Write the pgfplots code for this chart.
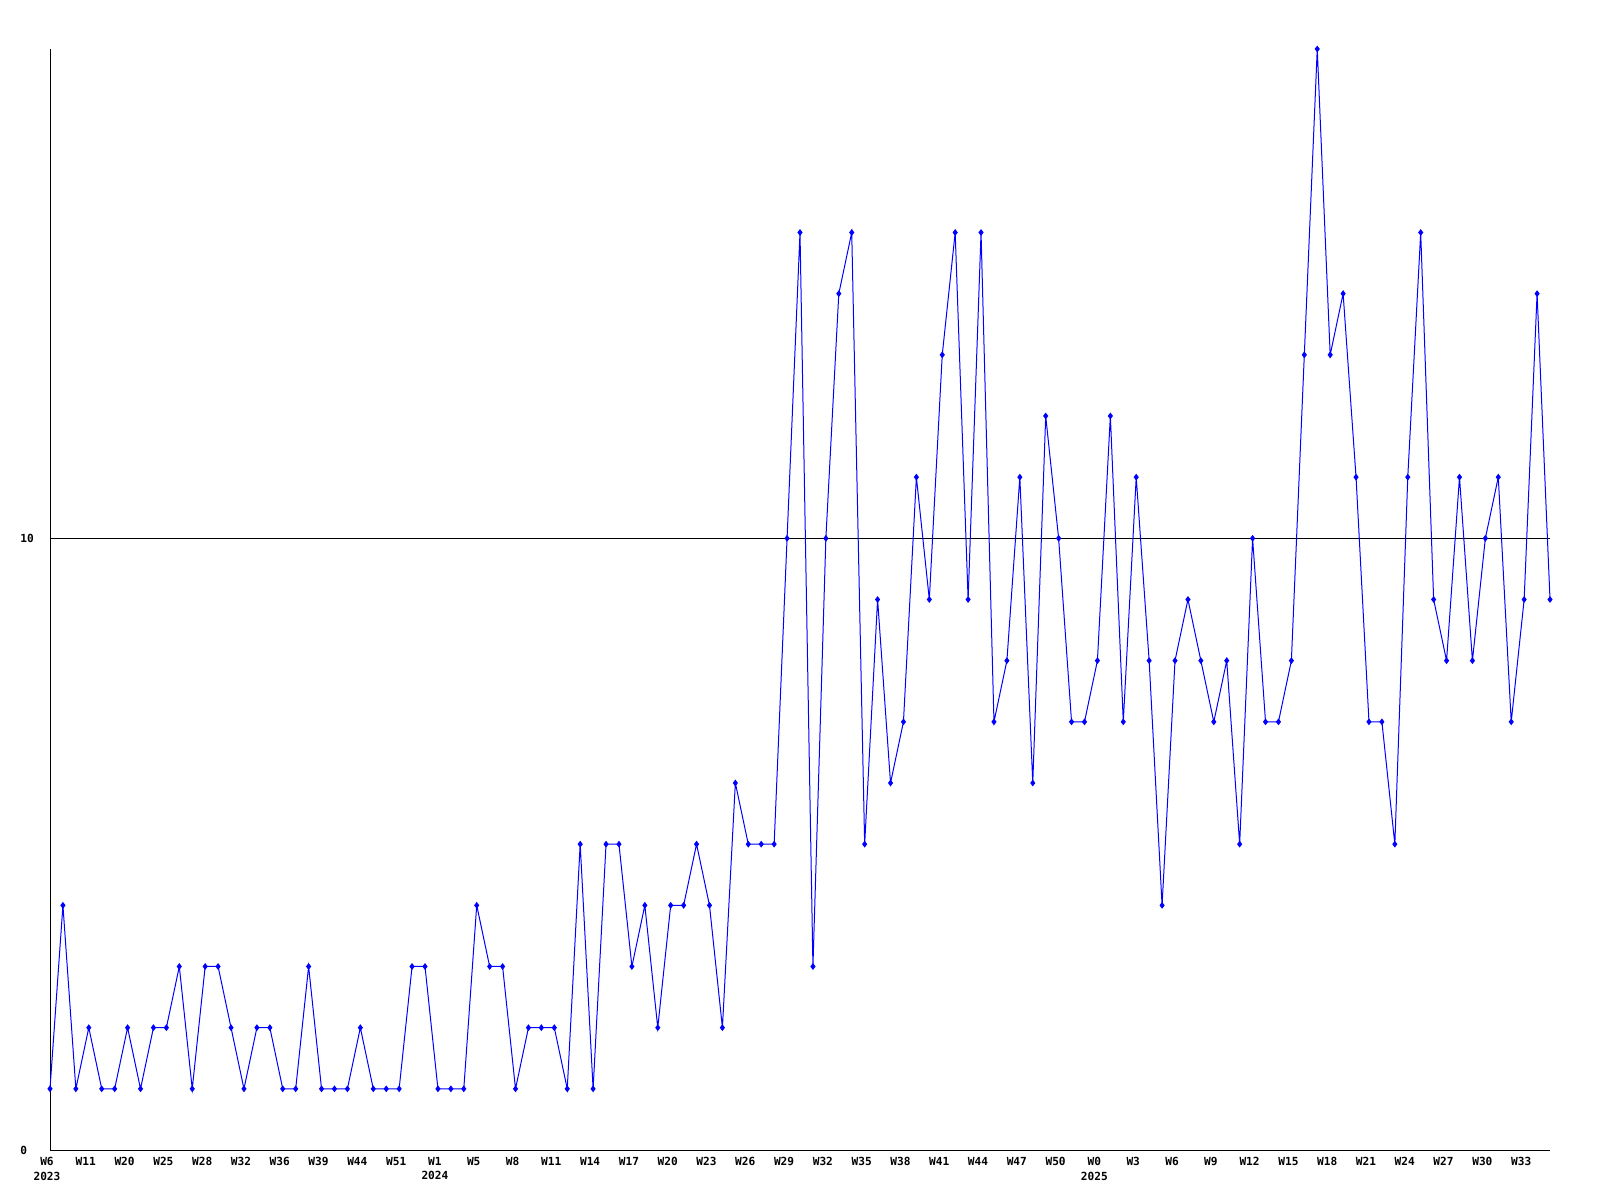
\documentclass[border=0pt]{standalone}
\usepackage{fontspec}
\setmainfont{DejaVu Sans Mono}
\usepackage{pgfplots}
\pgfplotsset{compat=1.18}
\definecolor{lineblue}{RGB}{0,0,255}

\begin{document}
\begin{tikzpicture}
\path[use as bounding box] (0,0) rectangle (800bp,600bp);
\begin{axis}[
    at={(25bp,25bp)}, anchor=south west,
    scale only axis,
    width=750bp, height=550.5bp,
    xmin=0, xmax=116, ymin=0, ymax=18,
    axis x line*=bottom, axis y line*=left,
    axis line style={black, line width=0.5bp},
    major tick length=0pt,
    ytick={0,10},
    xtick={0,3,...,114},
    xticklabels={{W6\\2023},W11,W20,W25,W28,W32,W36,W39,W44,W51,{W1\\2024},W5,W8,W11,W14,W17,W20,W23,W26,W29,W32,W35,W38,W41,W44,W47,W50,{W0\\2025},W3,W6,W9,W12,W15,W18,W21,W24,W27,W30,W33},
    xticklabel style={font=\bfseries\fontsize{5.6}{7.25}\selectfont, align=center, inner sep=0pt, yshift=-3.5bp, xshift=-1.5bp},
    yticklabel style={font=\bfseries\fontsize{5.6}{7.25}\selectfont, anchor=west, inner sep=0pt, xshift=-15bp},
    /pgf/number format/assume math mode=true,
    clip=false,
]
\addplot[black, line width=0.5bp] coordinates {(0,10) (116,10)};
\addplot[lineblue, line width=0.5bp, mark=diamond*, mark size=1.3bp] table {
x y
0 1
1 4
2 1
3 2
4 1
5 1
6 2
7 1
8 2
9 2
10 3
11 1
12 3
13 3
14 2
15 1
16 2
17 2
18 1
19 1
20 3
21 1
22 1
23 1
24 2
25 1
26 1
27 1
28 3
29 3
30 1
31 1
32 1
33 4
34 3
35 3
36 1
37 2
38 2
39 2
40 1
41 5
42 1
43 5
44 5
45 3
46 4
47 2
48 4
49 4
50 5
51 4
52 2
53 6
54 5
55 5
56 5
57 10
58 15
59 3
60 10
61 14
62 15
63 5
64 9
65 6
66 7
67 11
68 9
69 13
70 15
71 9
72 15
73 7
74 8
75 11
76 6
77 12
78 10
79 7
80 7
81 8
82 12
83 7
84 11
85 8
86 4
87 8
88 9
89 8
90 7
91 8
92 5
93 10
94 7
95 7
96 8
97 13
98 18
99 13
100 14
101 11
102 7
103 7
104 5
105 11
106 15
107 9
108 8
109 11
110 8
111 10
112 11
113 7
114 9
115 14
116 9
};
\end{axis}
\end{tikzpicture}
\end{document}
